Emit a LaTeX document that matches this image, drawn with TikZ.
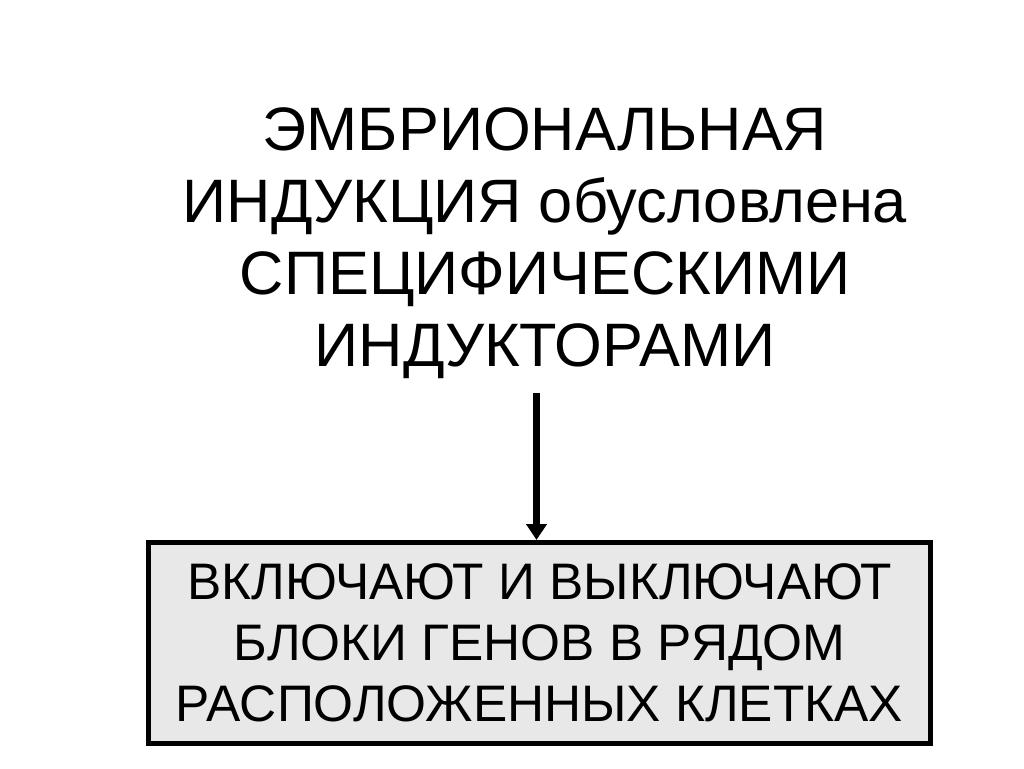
\documentclass[tikz,border=0pt]{standalone}
\usepackage{fontspec}
\setmainfont{Liberation Sans}
\usetikzlibrary{arrows.meta}

\begin{document}
\begin{tikzpicture}[x=0.75pt, y=-0.75pt]
 \tikzstyle{titre}=[align=center, text=black, font=\fontsize{46}{54}\selectfont]
 \tikzstyle{bloc}=[rectangle, draw, line width=3.75pt, fill=black!9, align=center,
   minimum width=782*0.75pt, minimum height=201*0.75pt, font=\fontsize{38.5}{45.75}\selectfont]
 \tikzstyle{fleche}=[-{Triangle[length=12pt, width=15pt]}, line width=5.25pt]
 %
 \useasboundingbox (0,0) rectangle (1024,768);
 %
 \node[titre] (T) at (545, 243) {ЭМБРИОНАЛЬНАЯ\\ИНДУКЦИЯ обусловлена\\СПЕЦИФИЧЕСКИМИ\\ИНДУКТОРАМИ};
 \node[bloc] (B) at (539.5, 643) {ВКЛЮЧАЮТ И ВЫКЛЮЧАЮТ\\БЛОКИ ГЕНОВ В РЯДОМ\\РАСПОЛОЖЕННЫХ КЛЕТКАХ};
 \coordinate (depart) at (536.5, 393);
 %%
 \draw[fleche] (depart)--(depart |- B.north);
\end{tikzpicture}
\end{document}
